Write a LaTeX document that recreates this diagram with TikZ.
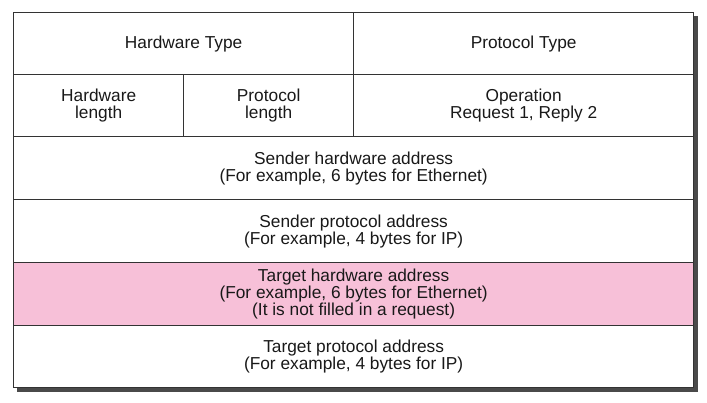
\documentclass[tikz,border=0pt]{standalone}
\usepackage{fontspec}
\setmainfont{Liberation Sans}
\definecolor{rowpink}{HTML}{F7C0D8}
\definecolor{rulegray}{HTML}{333333}
\definecolor{shadowgray}{HTML}{4A4A4A}
\begin{document}
\begin{tikzpicture}[x=1pt,y=-1pt,
  field/.style={draw=rulegray,line width=1.3pt,anchor=north west,inner sep=0pt},
  label/.style={align=center,font=\fontsize{17.3}{16.8}\selectfont,inner sep=0pt,text=black!90}]
\useasboundingbox (0,0) rectangle (707,403);
% drop shadow of the whole packet
\fill[shadowgray] (17,16) rectangle (698,392);
% rows
\fill[white] (13,12) rectangle (693,387);
\fill[rowpink] (13,262) rectangle (693,325);
\node[field,minimum width=340pt,minimum height=62pt] (hwtype) at (13,12) {};
\node[field,minimum width=340pt,minimum height=62pt] (prtype) at (353,12) {};
\node[field,minimum width=170pt,minimum height=62pt] (hwlen) at (13,74) {};
\node[field,minimum width=170pt,minimum height=62pt] (prlen) at (183,74) {};
\node[field,minimum width=340pt,minimum height=62pt] (oper) at (353,74) {};
\node[field,minimum width=680pt,minimum height=63pt] (sha) at (13,136) {};
\node[field,minimum width=680pt,minimum height=63pt] (spa) at (13,199) {};
\node[field,minimum width=680pt,minimum height=63pt] (tha) at (13,262) {};
\node[field,minimum width=680pt,minimum height=62pt] (tpa) at (13,325) {};
% field texts
\node[label] at (hwtype.center) {Hardware Type};
\node[label] at (prtype.center) {Protocol Type};
\node[label] at (hwlen.center) {Hardware\\length};
\node[label] at (prlen.center) {Protocol\\length};
\node[label] at (oper.center) {Operation\\Request 1, Reply 2};
\node[label] at (sha.center) {Sender hardware address\\(For example, 6 bytes for Ethernet)};
\node[label] at (spa.center) {Sender protocol address\\(For example, 4 bytes for IP)};
\node[label] at (tha.center) {Target hardware address\\(For example, 6 bytes for Ethernet)\\(It is not filled in a request)};
\node[label] at (tpa.center) {Target protocol address\\(For example, 4 bytes for IP)};
\end{tikzpicture}
\end{document}
